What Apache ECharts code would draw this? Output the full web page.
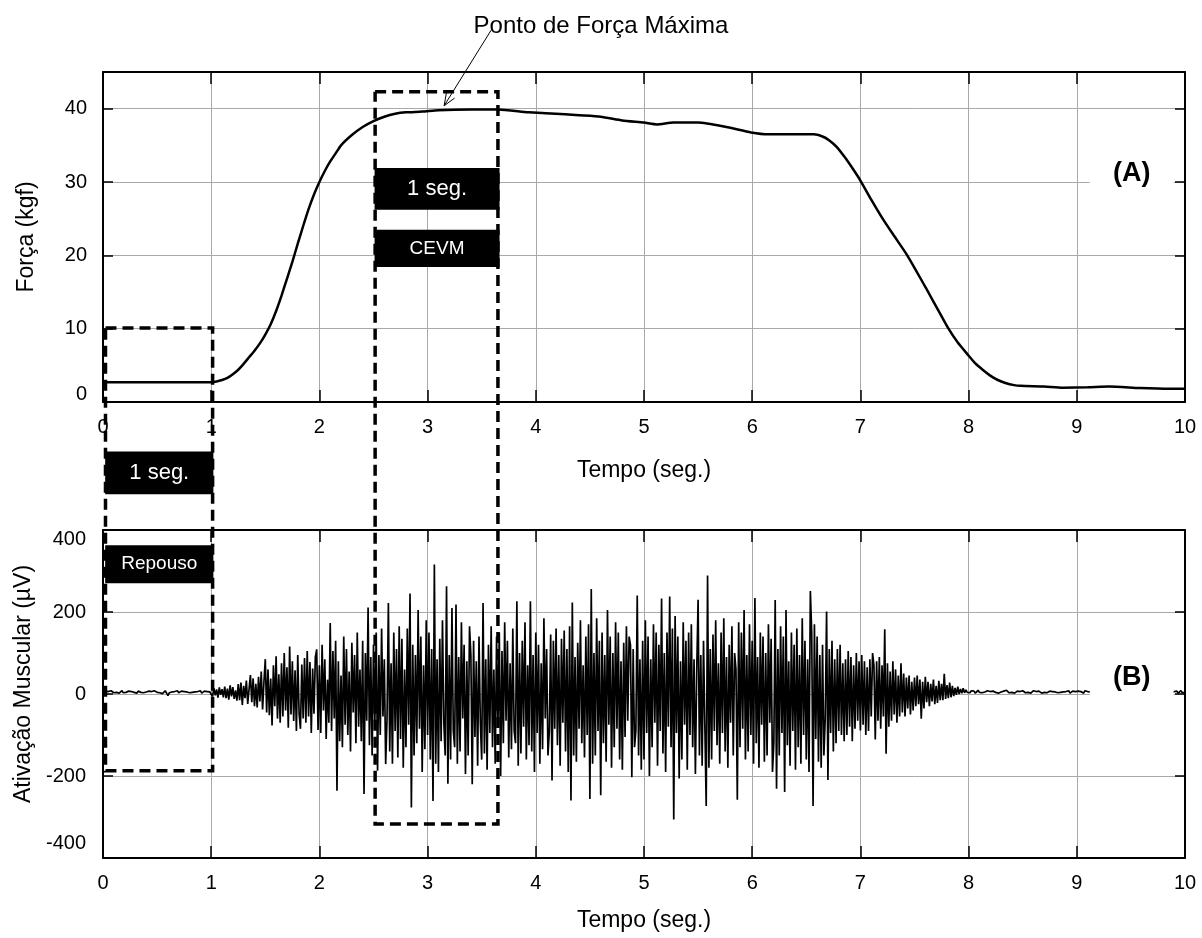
<!DOCTYPE html>
<html>
<head>
<meta charset="utf-8">
<title>Força e Ativação Muscular</title>
<script src="https://cdn.jsdelivr.net/npm/echarts/dist/echarts.min.js"></script>
<style>
  html, body { margin: 0; padding: 0; background: #fff; }
  #chart { width: 1202px; height: 938px; }
</style>
</head>
<body>
<div id="chart"></div>
<script>
// Force curve (kgf) sampled at irregular times (s)
const forceTime = [0, 0.5, 1.0, 1.05, 1.1, 1.15, 1.2, 1.25, 1.3, 1.35, 1.4, 1.45, 1.5, 1.55, 1.6, 1.65, 1.7,
  1.75, 1.8, 1.85, 1.9, 1.95, 2.0, 2.05, 2.1, 2.15, 2.2, 2.3, 2.4, 2.5, 2.6, 2.7, 2.8, 2.95, 3.1, 3.4, 3.65,
  3.93, 4.14, 4.4, 4.6, 4.8, 5.0, 5.12, 5.27, 5.5, 5.76, 5.99, 6.15, 6.4, 6.57, 6.65, 6.71, 6.78, 6.86, 6.93,
  7.0, 7.1, 7.21, 7.3, 7.42, 7.5, 7.63, 7.72, 7.81, 7.9, 7.99, 8.06, 8.13, 8.2, 8.27, 8.34, 8.42, 8.48, 8.7,
  8.87, 9.1, 9.3, 9.58, 9.86, 10.0];
const forceValue = [2.7, 2.7, 2.7, 2.8, 3.0, 3.3, 3.8, 4.4, 5.2, 6.1, 7.0, 8.0, 9.2, 10.6, 12.4, 14.5, 16.8,
  19.1, 21.6, 24.0, 26.3, 28.3, 30.0, 31.5, 32.8, 33.9, 35.0, 36.4, 37.5, 38.3, 38.9, 39.3, 39.5, 39.6, 39.8, 39.9, 39.9,
  39.5, 39.35, 39.1, 38.9, 38.4, 38.1, 37.85, 38.1, 38.1, 37.5, 36.75, 36.5, 36.5, 36.5, 36.2, 35.7, 34.8, 33.3, 31.8,
  30.2, 27.6, 24.9, 22.9, 20.3, 18.3, 14.9, 12.5, 10.1, 8.1, 6.5, 5.3, 4.4, 3.6, 3.0, 2.6, 2.3, 2.2, 2.1,
  1.95, 2.0, 2.1, 1.9, 1.8, 1.8];

// EMG signal (µV), one sample every EMG_DT seconds starting at t = 0
const EMG_DT = 0.0125;
const emgValue = [
  // 0 – 1 s : repouso
  5,3,7,4,6,2,8,5,3,6, 4,7,2,5,8,3,6,4,5,7, 3,6,9,4,5,2,7,5,4,8, 3,6,5,2,7,4,6,3,8,5,
  4,7,3,6,1,5,8,4,-4,3, 7,5,2,6,4,8,3,5,7,4, 6,2,5,8,3,6,4,7,5,3, 6,4,8,2,5,7,3,6,4,5,
  // 1 – 2 s
  8,-6,14,-3,11,-9,16,-2,12,-8, 18,-10,13,-14,21,-6,17,-12,9,-16,
  24,-15,28,-27,20,-10,33,-24,12,46, -20,38,-30,25,-33,42,-18,55,-38,30,
  85,-45,60,-52,38,-77,70,-30,92,-60, 48,-70,75,-55,100,-40,65,-82,116,-50,
  80,-66,58,-90,95,-48,-85,72,-60,88, -70,105,-55,78,-95,62,-48,90,109,-88,
  // 2 – 3 s
  70,-95,120,-40,85,-110,35,-70,173,-90, 105,-60,130,-236,80,-115,45,-130,140,-75,
  110,-100,55,-140,125,-45,95,-120,150,-80, 60,-115,130,-244,100,-65,211,-125,90,-150,
  120,-70,150,-187,95,-100,160,-55,85,-171, -60,222,-140,75,-170,150,-90,110,-155,165,
  -110,135,-180,60,-130,160,-75,245,-277,120, -150,95,-120,205,-85,140,-190,70,-135,180,
  // 3 – 4 s
  -100,150,-160,110,-261,316,-170,85,-190,135, -115,180,-70,-150,263,-219,95,-160,210,-90,
  -130,218,-170,90,-140,175,-60,120,-195,80, -150,165,95,-220,130,-105,80,-175,140,-70,
  -160,222,-145,85,-185,120,-95,165,-130,60, -170,140,-80,150,-200,105,-120,175,-65,130,
  -155,75,-135,160,-90,-120,226,-175,100,-145, 130,-80,175,-160,70,-125,226,-140,95,-190,
  // 4 – 5 s
  150,-95,120,-170,75,-135,185,-60,110,-150, -90,145,-211,130,-85,160,-125,95,-175,135,
  -70,155,-140,110,-190,165,-260,223,-150,90, -165,125,-85,180,-120,70,-155,140,-100,170,
  -256,256,-170,100,-150,185,-90,130,-247,150, -120,95,-165,205,-75,140,-180,100,-130,175,
  -85,150,-160,80,-185,125,-105,165,-65,140, 120,-203,110,-130,-90,240,-150,85,-185,130,
  // 5 – 6 s
  -160,180,-95,140,-200,85,-130,170,-70,150, -175,120,-90,233,-145,100,-190,150,-80,238,
  -130,160,-306,190,-95,140,-206,80,-160,175, -75,130,-185,150,-100,170,-130,85,-195,60,
  230,-150,95,-175,130,-80,-273,289,-180,110, -160,145,-90,180,-125,75,-170,150,-95,185,
  -140,90,-180,120,-70,165,-150,100,60,-258, 175,-130,150,-85,205,-160,95,-140,170,-100,
  // 6 – 7 s
  130,-170,234,-120,90,-180,150,-75,140,-165, 100,-150,170,-70,135,-190,-120,229,-231,110,
  -150,165,-95,140,-239,205,-125,80,-175,150, -90,120,-185,160,-130,95,-170,185,-100,130,
  -160,85,-190,251,150,-273,170,-110,140,-165, 95,-180,120,-150,-60,201,-210,110,-95,130,
  -140,85,-120,110,-90,120,-100,75,-115,85, -100,105,-80,90,-115,70,-85,100,-65,80,
  // 7 – 8 s
  -89,95,-75,80,-100,65,-90,85,-55,100, 70,-111,80,-65,90,-85,70,-55,158,-146,
  75,-80,55,-65,80,-50,60,-70,45,-55, 75,-45,50,-55,40,-35,45,-50,30,-40,
  40,-30,45,-25,35,-60,30,-35,42,-20, 30,-30,25,-18,35,-25,20,-22,32,-15,
  25,-15,49,-12,22,-10,28,-8,20,-5, 15,-2,18,0,12,2,14,3,10,4,
  // 8 – 9 s
  6,3,8,4,7,2,5,9,4,6, 3,7,5,2,8,4,6,3,7,5, 4,8,2,6,5,3,7,4,9,5, 3,6,4,8,2,5,7,3,6,4,
  8,5,3,6,4,7,2,5,8,4, 6,3,7,5,2,6,4,8,3,5, 7,4,6,2,5,8,3,6,4,7, 5,3,6,4,8,2,5,7,3,6,
  // 9 – 10 s
  4,7,3,6,5,2,8,4,6,3, 5,7,4,6,2,5,8,3,6,4, 7,5,3,6,4,8,2,5,7,3, 6,4,5,7,3,6,2,5,8,4,
  6,3,7,5,4,6,2,8,5,3, 6,4,7,3,5,8,2,6,4,5, 7,3,6,4,8,5,2,6,4,7, 3,5,6,4,7,2,5,8,3,6,
  4
];

// Analysis windows, in data units (s, kgf, µV)
const restWindow = { t0: 0.023, t1: 1.013, forceTop: 10.1, emgBottom: -187 };
const mvcWindow = { t0: 2.515, t1: 3.65, forceTop: 42.3, emgBottom: -317 };
const peakForcePoint = [3.153, 40.4];
const peakLabelTail = [3.587, 50.7];

const FONT = '"Liberation Sans", Arial, sans-serif';
const chart = echarts.init(document.getElementById('chart'), null, { renderer: 'canvas' });

const frameLine = { onZero: false, lineStyle: { color: '#000', width: 2 } };
const tickStyle = { color: '#000', width: 1.5 };
const gridStyle = { show: true, lineStyle: { color: '#a9a9a9', width: 1 } };
const labelStyle = { fontFamily: FONT, fontSize: 20, color: '#000' };
const nameStyle = { fontFamily: FONT, fontSize: 23, color: '#000' };

function timeAxis(gridIndex, position, main, nameGap) {
  return {
    gridIndex, type: 'value', min: 0, max: 10, interval: 1, position,
    name: main ? 'Tempo (seg.)' : '', nameLocation: 'middle', nameGap, nameTextStyle: nameStyle,
    axisLine: frameLine,
    axisTick: { show: true, inside: true, length: 12, lineStyle: tickStyle },
    axisLabel: main ? Object.assign({ margin: 15 }, labelStyle) : { show: false },
    splitLine: main ? gridStyle : { show: false }
  };
}

const option = {
  animation: false,
  backgroundColor: '#fff',
  title: {
    text: 'Ponto de Força Máxima', left: 'center', top: 9,
    textStyle: { fontFamily: FONT, fontSize: 24, fontWeight: 'normal', color: '#000' }
  },
  grid: [
    { left: 103, right: 17, top: 72, height: 330 },
    { left: 103, right: 17, top: 530, height: 328 }
  ],
  xAxis: [
    timeAxis(0, 'bottom', true, 57),
    timeAxis(0, 'top', false, 0),
    timeAxis(1, 'bottom', true, 51),
    timeAxis(1, 'top', false, 0)
  ],
  yAxis: [
    {
      gridIndex: 0, type: 'value', min: 0, max: 45, interval: 10, position: 'left',
      name: 'Força (kgf)', nameLocation: 'middle', nameGap: 65, nameTextStyle: nameStyle,
      axisLine: frameLine,
      axisTick: { show: true, inside: true, length: 10, lineStyle: tickStyle },
      axisLabel: Object.assign({
        margin: 16, showMaxLabel: false,
        formatter: v => v > 40 ? '' : (v === 0 ? '{lo|0}' : String(v)),
        rich: { lo: Object.assign({ padding: [0, 0, 16, 0] }, labelStyle) }
      }, labelStyle),
      splitLine: gridStyle
    },
    {
      gridIndex: 0, type: 'value', min: 0, max: 45, interval: 10, position: 'right',
      axisLine: frameLine,
      axisTick: { show: true, inside: true, length: 10, lineStyle: tickStyle },
      axisLabel: { show: false }, splitLine: { show: false }
    },
    {
      gridIndex: 1, type: 'value', min: -400, max: 400, interval: 200, position: 'left',
      name: 'Ativação Muscular (µV)', nameLocation: 'middle', nameGap: 65,
      nameTextStyle: Object.assign({ padding: [0, 0, 0, 20] }, nameStyle),
      axisLine: frameLine,
      axisTick: { show: true, inside: true, length: 10, lineStyle: tickStyle },
      axisLabel: Object.assign({
        margin: 17,
        formatter: v => v === 400 ? '{dn|400}' : (v === -400 ? '{up|-400}' : String(v)),
        rich: {
          dn: Object.assign({ padding: [18, 0, 0, 0] }, labelStyle),
          up: Object.assign({ padding: [0, 0, 30, 0] }, labelStyle)
        }
      }, labelStyle),
      splitLine: gridStyle
    },
    {
      gridIndex: 1, type: 'value', min: -400, max: 400, interval: 200, position: 'right',
      axisLine: frameLine,
      axisTick: { show: true, inside: true, length: 10, lineStyle: tickStyle },
      axisLabel: { show: false }, splitLine: { show: false }
    }
  ],
  series: [
    {
      name: 'Força', type: 'line', xAxisIndex: 0, yAxisIndex: 0,
      data: forceTime.map((t, i) => [t, forceValue[i]]),
      showSymbol: false, smooth: 0.2,
      lineStyle: { color: '#000', width: 2.5 }, z: 3
    },
    {
      name: 'EMG', type: 'line', xAxisIndex: 2, yAxisIndex: 2,
      data: emgValue.map((v, i) => [+(i * EMG_DT).toFixed(4), v]),
      showSymbol: false, sampling: null,
      lineStyle: { color: '#000', width: 1.7 }, z: 3
    }
  ]
};

chart.setOption(option);

// Annotations placed through the axes' own scales
const P0 = (t, v) => chart.convertToPixel({ xAxisIndex: 0, yAxisIndex: 0 }, [t, v]);
const P1 = (t, v) => chart.convertToPixel({ xAxisIndex: 2, yAxisIndex: 2 }, [t, v]);

function windowBox(win) {
  const a = P0(win.t0, win.forceTop);
  const b = P0(win.t1, win.forceTop);
  const yb = P1(win.t1, win.emgBottom)[1];
  return {
    type: 'polyline', z: 50,
    shape: { points: [a, b, [b[0], yb], [a[0], yb], [a[0], a[1]]] },
    style: { stroke: '#000', lineWidth: 3.5, lineDash: [11, 6], fill: null }
  };
}

function tag(P, t0, t1, vTop, vBot, text, font, fg, bg) {
  const a = P(t0, vTop);
  const b = P(t1, vBot);
  return [
    { type: 'rect', z: 60, shape: { x: a[0], y: a[1], width: b[0] - a[0], height: b[1] - a[1] }, style: { fill: bg } },
    {
      type: 'text', z: 61, x: (a[0] + b[0]) / 2, y: (a[1] + b[1]) / 2,
      style: { text, fill: fg, font, align: 'center', verticalAlign: 'middle' }
    }
  ];
}

function arrow(tail, tip) {
  const dx = tip[0] - tail[0], dy = tip[1] - tail[1];
  const len = Math.hypot(dx, dy), ux = dx / len, uy = dy / len;
  const head = 13, ang = 22 * Math.PI / 180;
  const wing = s => [
    tip[0] - head * (ux * Math.cos(ang) - s * uy * Math.sin(ang)),
    tip[1] - head * (uy * Math.cos(ang) + s * ux * Math.sin(ang))
  ];
  return [
    { type: 'line', z: 55, shape: { x1: tail[0], y1: tail[1], x2: tip[0], y2: tip[1] }, style: { stroke: '#000', lineWidth: 1 } },
    { type: 'polyline', z: 55, shape: { points: [wing(1), tip, wing(-1)] }, style: { stroke: '#000', lineWidth: 1, fill: null } }
  ];
}

const elements = [
  windowBox(restWindow),
  windowBox(mvcWindow),
  ...tag(P0, 2.51, 3.665, 31.9, 26.2, '1 seg.', '22px ' + FONT, '#fff', '#000'),
  ...tag(P0, 2.51, 3.665, 23.5, 18.4, 'CEVM', '19px ' + FONT, '#fff', '#000'),
  ...tag(P1, 0.02, 1.02, 591.7, 487.1, '1 seg.', '22px ' + FONT, '#fff', '#000'),
  ...tag(P1, 0.02, 1.02, 362.7, 270.2, 'Repouso', '19px ' + FONT, '#fff', '#000'),
  ...tag(P0, 9.12, 9.895, 33.5, 28.8, '(A)', 'bold 27px ' + FONT, '#000', '#fff'),
  ...tag(P1, 9.12, 9.895, 95, -15, '(B)', 'bold 27px ' + FONT, '#000', '#fff'),
  ...arrow(P0(peakLabelTail[0], peakLabelTail[1]), P0(peakForcePoint[0], peakForcePoint[1]))
];

chart.setOption({ graphic: { elements } });
</script>
</body>
</html>
